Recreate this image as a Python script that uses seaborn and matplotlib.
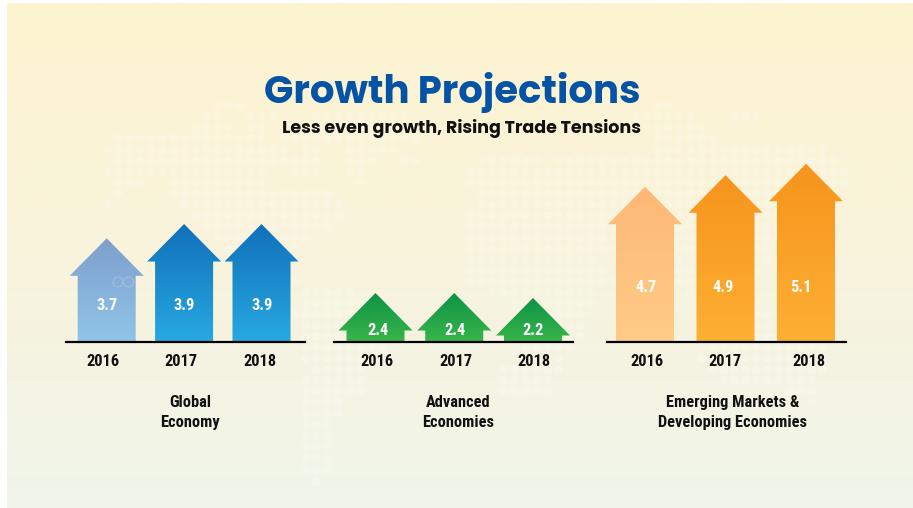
import numpy as np
import pandas as pd
import matplotlib
matplotlib.use("Agg")
import matplotlib.pyplot as plt
from matplotlib.patches import Polygon, Circle
from matplotlib.colors import LinearSegmentedColormap
import seaborn as sns

YEARS = ["2016", "2017", "2018"]
GLOBAL_GROWTH = [3.7, 3.9, 3.9]
ADVANCED_GROWTH = [2.4, 2.4, 2.2]
EMERGING_GROWTH = [4.7, 4.9, 5.1]
PANEL_NAMES = ["Global\nEconomy", "Advanced\nEconomies", "Emerging Markets &\nDeveloping Economies"]
TITLE = "Growth Projections"
SUBTITLE = "Less even growth, Rising Trade Tensions"

# dotted world map: row height in pixels, then the x spans filled with dots on that row
MAP_ROWS = [
    (105, [(213, 240), (653, 670)]),
    (116, [(203, 220), (247, 277), (310, 410), (633, 690), (733, 757)]),
    (127, [(193, 230), (247, 270), (310, 420), (633, 703)]),
    (138, [(117, 265), (280, 420), (653, 720)]),
    (149, [(105, 287), (303, 317), (347, 393), (653, 823)]),
    (160, [(117, 287), (290, 317), (347, 373), (403, 417), (477, 540), (557, 833)]),
    (171, [(105, 163), (170, 263), (293, 317), (347, 360), (470, 850)]),
    (182, [(117, 143), (170, 263), (360, 365), (470, 850)]),
    (193, [(117, 120), (170, 330), (480, 830)]),
    (204, [(105, 108), (183, 340), (480, 820)]),
    (215, [(193, 340), (470, 800)]),
    (226, [(203, 330), (470, 790)]),
    (237, [(214, 310), (470, 780)]),
    (248, [(225, 295), (470, 770)]),
    (259, [(236, 280), (460, 600), (640, 770)]),
    (270, [(258, 270), (460, 610), (650, 760)]),
    (281, [(280, 300), (470, 620), (670, 745)]),
    (292, [(295, 350), (490, 600), (690, 740)]),
    (303, [(295, 375), (510, 590), (700, 760)]),
    (314, [(290, 390), (515, 585), (710, 770)]),
    (325, [(295, 400), (515, 585), (720, 770), (790, 810)]),
    (336, [(300, 395), (515, 580), (720, 810)]),
    (347, [(305, 385), (515, 575), (705, 825)]),
    (358, [(305, 375), (515, 565), (700, 830)]),
    (369, [(310, 365), (500, 560), (705, 830)]),
    (380, [(305, 360), (500, 550), (720, 820)]),
    (391, [(303, 360), (500, 547), (780, 810)]),
    (402, [(303, 345), (810, 820)]),
    (413, [(303, 340)]),
    (424, [(303, 335)]),
    (435, [(303, 330)]),
    (446, [(303, 330)]),
    (458, [(303, 330)]),
    (470, [(303, 330)]),
    (481, [(315, 320)]),
]

W, H = 913, 508
BASE_Y = 342
TOP_Y = 150
HEAD_PX = 37.5
SHAFT_PX = 58
HEAD_HALF_PX = 37
LABEL_FONT = ["Roboto Condensed", "Roboto", "DejaVu Sans"]
TITLE_FONT = ["Poppins", "Lato", "DejaVu Sans"]

sns.set_theme(style="white")
plt.rcParams["font.family"] = LABEL_FONT

fig = plt.figure(figsize=(W / 100, H / 100), dpi=100, facecolor="white")

# page background: warm cream fading into a pale green
bg = fig.add_axes([0, 0, 1, 1], zorder=0)
bg.axis("off")
page_cmap = LinearSegmentedColormap.from_list("page", ["#FDF3D0", "#F8F3DC", "#F0F5EA"])
bg.imshow(np.linspace(0, 1, 256)[:, None], cmap=page_cmap, aspect="auto",
          extent=(7, W, H, 3), zorder=0)
bg.set_xlim(0, W)
bg.set_ylim(H, 0)

map_x, map_y = [], []
for row_y, spans in MAP_ROWS:
    for a, b in spans:
        cols = np.arange(117.7 - 11 * 2, 860, 11)
        cols = cols[(cols >= a - 1) & (cols <= b + 1)]
        map_x.extend(cols)
        map_y.extend([row_y] * len(cols))
sns.scatterplot(x=map_x, y=map_y, ax=bg, s=40, color="white", alpha=0.2, linewidth=0, zorder=1,
                legend=False)
bg.set_xlim(0, W)
bg.set_ylim(H, 0)
bg.axis("off")

# overlay measured in pixels for the heading and panel captions
fg = fig.add_axes([0, 0, 1, 1], zorder=5, facecolor="none")
fg.set_xlim(0, W)
fg.set_ylim(H, 0)
fg.axis("off")


def draw_panel(values, centers, line, tick_x, low, px_per_unit, colors, name, name_x, value_x, value_y):
    ax = fig.add_axes([line[0] / W, 1 - BASE_Y / H, (line[1] - line[0]) / W, (BASE_Y - TOP_Y) / H],
                      zorder=2, facecolor="none")
    frame = pd.DataFrame({"year": YEARS, "growth": values})
    sns.barplot(data=frame, x="year", y="growth", ax=ax, width=0.72)
    step = (centers[2] - centers[0]) / 2
    x0 = centers[0]
    head = HEAD_PX / px_per_unit
    half_shaft = SHAFT_PX / 2 / step
    half_head = HEAD_HALF_PX / step
    # each seaborn bar supplies the slot and the value; it is repainted as a gradient arrow
    for bar, (top_c, bot_c) in zip(list(ax.patches), colors):
        i = bar.get_x() + bar.get_width() / 2
        v = bar.get_height()
        bar.set_visible(False)
        s = v - head
        outline = [(i - half_shaft, low), (i - half_shaft, s), (i - half_head, s), (i, v),
                   (i + half_head, s), (i + half_shaft, s), (i + half_shaft, low)]
        poly = Polygon(outline, closed=True, facecolor="none", edgecolor="none")
        ax.add_patch(poly)
        cmap = LinearSegmentedColormap.from_list("arrow", [top_c, bot_c])
        im = ax.imshow(np.linspace(0, 1, 128)[:, None], cmap=cmap, aspect="auto",
                       extent=(i - half_head, i + half_head, low, v), zorder=2)
        im.set_clip_path(poly)
    ax.set_xlim((line[0] - x0) / step, (line[1] - x0) / step)
    ax.set_ylim(low, low + (BASE_Y - TOP_Y) / px_per_unit)
    ax.set_xticks([(t - x0) / step for t in tick_x], YEARS)
    ax.tick_params(axis="x", length=0, pad=9, labelsize=11.8, labelcolor="#111111")
    for lab in ax.get_xticklabels():
        lab.set_fontweight("bold")
    ax.set_yticks([])
    ax.set_xlabel("")
    ax.set_ylabel("")
    for side in ("top", "left", "right"):
        ax.spines[side].set_visible(False)
    ax.spines["bottom"].set_color("black")
    ax.spines["bottom"].set_linewidth(1.6)
    for x, v in zip(value_x, values):
        fg.text(x, value_y, f"{v}", ha="center", va="center", color="white",
                fontsize=11.8, fontweight="bold")
    fg.text(name_x, 412.5, name, ha="center", va="center", fontsize=11.8, fontweight="bold",
            color="#111111", linespacing=1.36)


BLUE_SOFT = ("#7F9FCD", "#90C4E8")
BLUE = ("#1170BA", "#27A9E1")
GREEN = ("#0E9347", "#39B54A")
ORANGE_SOFT = ("#FDB876", "#FFCC87")
ORANGE = ("#F7941D", "#FDB034")

draw_panel(GLOBAL_GROWTH, [106.7, 184, 261.5], (66, 305), [103, 181, 260], 2.25, 71.5,
           [BLUE_SOFT, BLUE, BLUE], PANEL_NAMES[0], 190, [107, 184, 262], 305)
draw_panel(ADVANCED_GROWTH, [375.5, 455.5, 533], (334, 573), [377, 455.7, 534], 0.44, 25,
           [GREEN, GREEN, GREEN], PANEL_NAMES[1], 458, [377.7, 455, 533], 330.5)
draw_panel(EMERGING_GROWTH, [645, 725, 806], (607, 846), [646.7, 725, 808.7], 2.0, 57.5,
           [ORANGE_SOFT, ORANGE, ORANGE], PANEL_NAMES[2], 733, [646, 723, 800.7], 287.5)

# two faint rings on the first arrow
for cx in (118, 128.7):
    fg.add_patch(Circle((cx, 282), 5, facecolor="none", edgecolor="#A9C3E0", linewidth=0.6))

fg.text(452, 92.5, TITLE, ha="center", va="center", fontsize=27.8, fontweight="bold",
        color="#0553A5", family=TITLE_FONT)
fg.text(461.5, 128.5, SUBTITLE, ha="center", va="center", fontsize=12.6, fontweight="bold",
        color="#111111", family=TITLE_FONT)

fig.savefig("out.png", dpi=100, facecolor="white")
